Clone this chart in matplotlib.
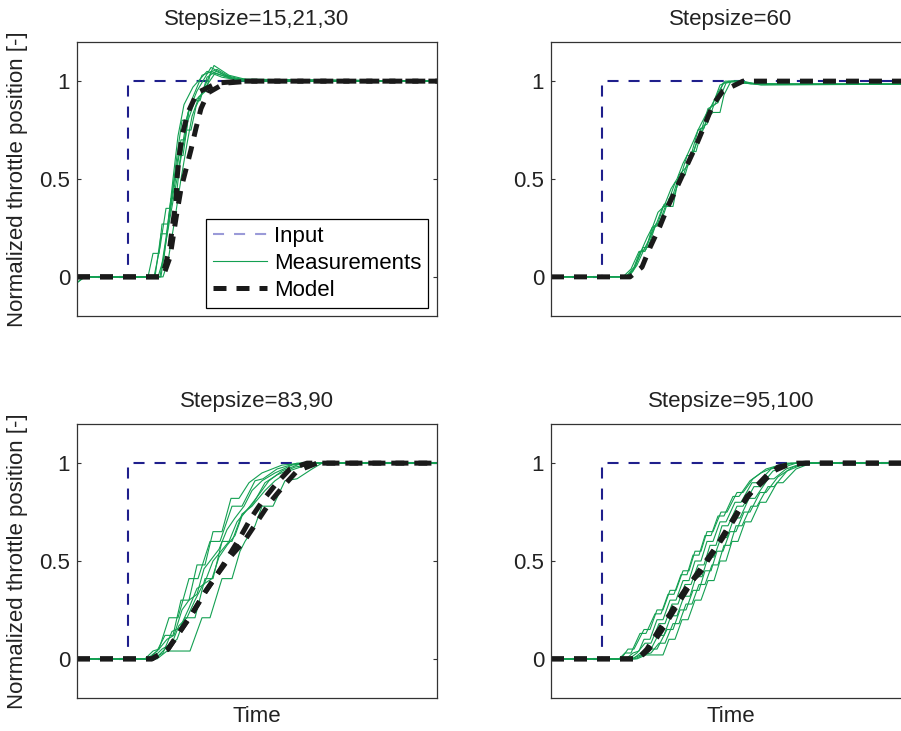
import matplotlib
matplotlib.use('Agg')
import matplotlib.pyplot as plt
from matplotlib.lines import Line2D

plt.rcParams['font.family'] = ['Liberation Sans', 'DejaVu Sans']
plt.rcParams['font.size'] = 16

navy = '#1f1f8c'
green = '#13a052'
black = '#1a1a1a'
frame = '#333333'

# time axis in seconds, step of the input at t=0.51
input_t = [0, 0.51, 0.51, 3.6]
input_y = [0, 0, 1, 1]

titles = ['Stepsize=15,21,30', 'Stepsize=60', 'Stepsize=83,90', 'Stepsize=95,100']

# ---- Stepsize=15,21,30 ----
tl_model = [
    [(0, 0), (0.83, 0), (0.88, 0.05), (0.93, 0.16), (0.96, 0.28), (0.99, 0.38), (1.00, 0.5),
     (1.02, 0.61), (1.05, 0.72), (1.11, 0.84), (1.20, 0.94), (1.40, 0.99), (1.63, 1.0), (3.6, 1.0)],
    [(0, 0), (0.86, 0), (0.93, 0.1), (0.99, 0.3), (1.04, 0.45), (1.09, 0.55), (1.14, 0.65),
     (1.19, 0.76), (1.24, 0.86), (1.31, 0.94), (1.48, 0.99), (1.73, 1.0), (3.6, 1.0)],
]
tl_meas = [
    [(0, -0.03), (0.07, 0), (0.71, 0), (0.76, 0.12), (0.82, 0.12), (0.85, 0.27), (0.91, 0.27), (0.96, 0.5),
     (1.01, 0.72), (1.07, 0.88), (1.16, 0.97), (1.30, 1.05), (1.45, 1.02), (1.68, 1.0), (3.6, 1.0)],
    [(0, -0.03), (0.08, 0), (0.77, 0), (0.83, 0.15), (0.89, 0.35), (0.93, 0.35), (0.99, 0.55), (1.04, 0.7),
     (1.08, 0.7), (1.12, 0.85), (1.20, 0.95), (1.34, 1.07), (1.48, 1.03), (1.72, 1.0), (3.6, 1.0)],
    [(0, 0), (0.81, 0), (0.87, 0.1), (0.92, 0.3), (0.98, 0.48), (1.02, 0.62), (1.06, 0.62), (1.11, 0.8),
     (1.18, 0.9), (1.24, 0.93), (1.37, 1.08), (1.52, 1.03), (1.76, 1.0), (3.6, 1.0)],
    [(0, 0), (0.83, 0), (0.89, 0.2), (0.94, 0.4), (0.99, 0.4), (1.03, 0.58), (1.09, 0.75), (1.14, 0.75),
     (1.19, 0.87), (1.26, 0.95), (1.38, 1.04), (1.58, 1.01), (3.6, 1.0)],
    [(0, 0), (0.86, 0), (0.91, 0.08), (0.98, 0.3), (1.04, 0.5), (1.10, 0.68), (1.15, 0.82), (1.22, 0.92),
     (1.29, 0.95), (1.34, 1.05), (1.50, 1.02), (1.72, 1.0), (3.6, 1.0)],
    [(0, 0), (0.78, 0), (0.84, 0.22), (0.90, 0.22), (0.95, 0.42), (1.00, 0.62), (1.05, 0.8), (1.09, 0.8),
     (1.16, 0.92), (1.25, 1.03), (1.40, 1.06), (1.57, 1.01), (3.6, 1.0)],
    [(0, 0), (0.84, 0), (0.88, 0.15), (0.94, 0.33), (1.00, 0.5), (1.05, 0.66), (1.11, 0.84), (1.16, 0.9),
     (1.23, 0.9), (1.30, 1.02), (1.39, 1.05), (1.62, 1.0), (3.6, 1.0)],
]

# ---- Stepsize=60 ----
tr_model = [
    [(0, 0), (0.79, 0), (0.91, 0.05), (0.99, 0.15), (1.09, 0.26), (1.17, 0.36), (1.27, 0.47), (1.36, 0.57),
     (1.45, 0.67), (1.54, 0.78), (1.62, 0.88), (1.72, 0.95), (1.92, 1.0), (3.6, 1.0)],
]
tr_meas = [
    [(0, 0), (0.72, 0), (0.80, 0.04), (0.88, 0.13), (0.94, 0.13), (1.03, 0.26), (1.08, 0.27), (1.15, 0.37),
     (1.19, 0.37), (1.27, 0.5), (1.31, 0.5), (1.39, 0.62), (1.42, 0.63), (1.50, 0.76), (1.53, 0.76),
     (1.60, 0.87), (1.64, 0.88), (1.72, 0.99), (1.82, 1.0), (1.95, 0.99), (2.3, 0.985), (3.6, 0.985)],
    [(0, 0), (0.76, 0), (0.84, 0.05), (0.92, 0.15), (0.97, 0.15), (1.05, 0.27), (1.10, 0.28), (1.18, 0.4),
     (1.22, 0.4), (1.30, 0.52), (1.34, 0.52), (1.41, 0.64), (1.45, 0.64), (1.52, 0.77), (1.56, 0.78),
     (1.63, 0.88), (1.67, 0.89), (1.75, 0.99), (1.85, 1.0), (2.0, 0.985), (3.6, 0.985)],
    [(0, 0), (0.78, 0), (0.86, 0.06), (0.93, 0.14), (0.99, 0.2), (1.06, 0.28), (1.12, 0.36), (1.22, 0.36),
     (1.28, 0.52), (1.37, 0.57), (1.42, 0.63), (1.48, 0.72), (1.52, 0.75), (1.57, 0.82), (1.62, 0.84),
     (1.69, 0.84), (1.73, 0.93), (1.80, 1.0), (1.92, 1.0), (2.05, 0.985), (3.6, 0.985)],
    [(0, 0), (0.74, 0), (0.82, 0.03), (0.90, 0.13), (0.96, 0.2), (1.02, 0.26), (1.07, 0.33), (1.13, 0.36),
     (1.20, 0.45), (1.26, 0.5), (1.32, 0.58), (1.36, 0.62), (1.43, 0.7), (1.47, 0.75), (1.55, 0.83),
     (1.60, 0.87), (1.68, 0.95), (1.74, 1.0), (1.88, 1.0), (2.1, 0.98), (3.6, 0.985)],
    [(0, 0), (0.75, 0), (0.83, 0.05), (0.89, 0.13), (0.95, 0.14), (1.01, 0.25), (1.06, 0.26), (1.13, 0.37),
     (1.17, 0.38), (1.24, 0.48), (1.29, 0.5), (1.36, 0.62), (1.40, 0.62), (1.47, 0.75), (1.51, 0.76),
     (1.57, 0.86), (1.61, 0.87), (1.69, 0.98), (1.78, 1.0), (1.90, 0.99), (2.2, 0.985), (3.6, 0.985)],
]

# ---- Stepsize=83,90 ----
bl_model = [
    [(0, 0), (0.75, 0), (0.91, 0.05), (1.03, 0.14), (1.15, 0.23), (1.28, 0.34), (1.40, 0.43), (1.51, 0.52),
     (1.63, 0.62), (1.74, 0.72), (1.86, 0.81), (2.00, 0.9), (2.13, 0.97), (2.30, 1.0), (3.6, 1.0)],
    [(0, 0), (0.75, 0), (0.91, 0.05), (1.03, 0.14), (1.15, 0.23), (1.28, 0.34), (1.40, 0.43), (1.53, 0.52),
     (1.67, 0.6), (1.80, 0.7), (1.93, 0.8), (2.06, 0.88), (2.20, 0.96), (2.40, 1.0), (3.6, 1.0)],
]
bl_meas = [
    [(0, 0), (0.68, 0), (0.76, 0.04), (0.82, 0.05), (0.92, 0.21), (1.01, 0.21), (1.12, 0.41), (1.21, 0.41),
     (1.33, 0.6), (1.43, 0.6), (1.55, 0.78), (1.65, 0.78), (1.78, 0.91), (1.86, 0.92), (2.0, 0.97),
     (2.2, 1.0), (3.6, 1.0)],
    [(0, 0), (0.80, 0), (0.90, 0.04), (1.13, 0.04), (1.25, 0.21), (1.33, 0.21), (1.45, 0.41), (1.55, 0.41),
     (1.63, 0.55), (1.68, 0.6), (1.78, 0.68), (1.85, 0.78), (1.96, 0.78), (2.08, 0.91), (2.20, 0.92),
     (2.35, 0.97), (2.45, 1.0), (3.6, 1.0)],
    [(0, 0), (0.72, 0), (0.82, 0.05), (0.90, 0.1), (0.97, 0.12), (1.05, 0.25), (1.12, 0.3), (1.20, 0.33),
     (1.27, 0.46), (1.33, 0.5), (1.42, 0.56), (1.50, 0.66), (1.58, 0.72), (1.67, 0.78), (1.75, 0.86),
     (1.85, 0.91), (1.98, 0.95), (2.15, 0.99), (2.3, 1.0), (3.6, 1.0)],
    [(0, 0), (0.75, 0), (0.85, 0.05), (0.95, 0.08), (1.02, 0.17), (1.10, 0.21), (1.18, 0.3), (1.26, 0.38),
     (1.35, 0.41), (1.42, 0.52), (1.50, 0.58), (1.58, 0.63), (1.65, 0.73), (1.73, 0.78), (1.82, 0.84),
     (1.92, 0.91), (2.05, 0.96), (2.25, 1.0), (3.6, 1.0)],
    [(0, 0), (0.70, 0), (0.80, 0.04), (0.88, 0.12), (0.96, 0.12), (1.04, 0.3), (1.12, 0.3), (1.20, 0.48),
     (1.28, 0.48), (1.36, 0.65), (1.45, 0.65), (1.54, 0.82), (1.62, 0.82), (1.72, 0.9), (1.85, 0.95),
     (2.05, 0.99), (2.25, 1.0), (3.6, 1.0)],
    [(0, 0), (0.78, 0), (0.88, 0.05), (1.00, 0.1), (1.08, 0.21), (1.18, 0.21), (1.28, 0.41), (1.36, 0.41),
     (1.45, 0.6), (1.55, 0.6), (1.65, 0.74), (1.75, 0.78), (1.88, 0.86), (1.98, 0.91), (2.12, 0.96),
     (2.35, 1.0), (3.6, 1.0)],
    [(0, 0), (0.76, 0), (0.86, 0.03), (0.95, 0.14), (1.03, 0.16), (1.12, 0.26), (1.20, 0.36), (1.27, 0.38),
     (1.36, 0.5), (1.44, 0.55), (1.52, 0.6), (1.60, 0.7), (1.68, 0.75), (1.77, 0.8), (1.88, 0.9),
     (2.0, 0.94), (2.18, 0.98), (2.4, 1.0), (3.6, 1.0)],
]

# ---- Stepsize=95,100 ----
br_model = [
    [(0, 0), (0.87, 0), (0.96, 0.05), (1.07, 0.14), (1.19, 0.23), (1.27, 0.3), (1.39, 0.39), (1.49, 0.44),
     (1.59, 0.52), (1.72, 0.62), (1.84, 0.72), (1.96, 0.83), (2.11, 0.9), (2.27, 0.98), (2.46, 1.0), (3.6, 1.0)],
    [(0, 0), (0.87, 0), (0.98, 0.05), (1.10, 0.14), (1.22, 0.24), (1.33, 0.33), (1.44, 0.42), (1.55, 0.5),
     (1.66, 0.58), (1.78, 0.68), (1.90, 0.78), (2.03, 0.87), (2.18, 0.95), (2.36, 0.99), (2.55, 1.0), (3.6, 1.0)],
]
br_meas = [
    [(0, 0), (0.70, 0), (0.77, 0.05), (0.83, 0.05), (0.93, 0.15), (0.99, 0.15), (1.06, 0.25), (1.12, 0.25),
     (1.19, 0.35), (1.25, 0.35), (1.32, 0.45), (1.38, 0.45), (1.44, 0.55), (1.50, 0.55), (1.56, 0.65),
     (1.62, 0.65), (1.70, 0.75), (1.76, 0.75), (1.86, 0.85), (1.92, 0.85), (2.02, 0.92), (2.15, 0.97),
     (2.35, 1.0), (3.6, 1.0)],
    [(0, 0), (0.75, 0), (0.82, 0.03), (0.88, 0.04), (0.93, 0.1), (0.99, 0.1), (1.06, 0.2), (1.12, 0.2),
     (1.19, 0.3), (1.25, 0.3), (1.32, 0.4), (1.38, 0.4), (1.44, 0.5), (1.50, 0.5), (1.56, 0.6), (1.62, 0.6),
     (1.69, 0.7), (1.75, 0.7), (1.84, 0.8), (1.90, 0.8), (2.01, 0.9), (2.07, 0.9), (2.20, 0.97),
     (2.40, 1.0), (3.6, 1.0)],
    [(0, 0), (0.78, 0), (0.86, 0.03), (0.94, 0.08), (1.00, 0.08), (1.08, 0.18), (1.14, 0.18), (1.21, 0.28),
     (1.27, 0.28), (1.34, 0.38), (1.40, 0.38), (1.47, 0.48), (1.53, 0.48), (1.59, 0.58), (1.65, 0.58),
     (1.71, 0.68), (1.77, 0.68), (1.86, 0.78), (1.92, 0.78), (2.03, 0.88), (2.09, 0.88), (2.22, 0.96),
     (2.45, 1.0), (3.6, 1.0)],
    [(0, 0), (0.82, 0), (0.92, 0.04), (1.00, 0.05), (1.07, 0.12), (1.13, 0.12), (1.20, 0.22), (1.26, 0.22),
     (1.33, 0.32), (1.39, 0.32), (1.45, 0.42), (1.51, 0.42), (1.57, 0.52), (1.63, 0.52), (1.70, 0.62),
     (1.76, 0.62), (1.83, 0.72), (1.89, 0.72), (1.98, 0.82), (2.04, 0.82), (2.17, 0.92), (2.23, 0.92),
     (2.35, 0.97), (2.52, 1.0), (3.6, 1.0)],
    [(0, 0), (0.84, 0), (0.96, 0.03), (1.00, 0.05), (1.06, 0.05), (1.16, 0.15), (1.22, 0.15), (1.29, 0.25),
     (1.35, 0.25), (1.42, 0.35), (1.48, 0.35), (1.54, 0.45), (1.60, 0.45), (1.66, 0.55), (1.72, 0.55),
     (1.79, 0.65), (1.85, 0.65), (1.93, 0.75), (1.99, 0.75), (2.09, 0.85), (2.15, 0.85), (2.27, 0.93),
     (2.42, 0.98), (2.58, 1.0), (3.6, 1.0)],
    [(0, 0), (0.86, 0), (0.95, 0.02), (1.12, 0.02), (1.18, 0.1), (1.24, 0.1), (1.31, 0.2), (1.37, 0.2),
     (1.44, 0.3), (1.50, 0.3), (1.57, 0.4), (1.63, 0.4), (1.69, 0.5), (1.75, 0.5), (1.81, 0.6), (1.87, 0.6),
     (1.94, 0.7), (2.00, 0.7), (2.09, 0.8), (2.15, 0.8), (2.26, 0.9), (2.32, 0.9), (2.45, 0.97),
     (2.60, 1.0), (3.6, 1.0)],
    [(0, 0), (0.68, 0), (0.74, 0.03), (0.80, 0.03), (0.89, 0.13), (0.95, 0.13), (1.04, 0.23), (1.10, 0.23),
     (1.17, 0.33), (1.23, 0.33), (1.30, 0.43), (1.36, 0.43), (1.42, 0.53), (1.48, 0.53), (1.54, 0.63),
     (1.60, 0.63), (1.67, 0.73), (1.73, 0.73), (1.82, 0.83), (1.88, 0.83), (1.99, 0.91), (2.10, 0.95),
     (2.28, 0.99), (2.45, 1.0), (3.6, 1.0)],
    [(0, 0), (0.80, 0), (0.90, 0.02), (1.00, 0.03), (1.08, 0.08), (1.14, 0.08), (1.22, 0.18), (1.28, 0.18),
     (1.35, 0.28), (1.41, 0.28), (1.48, 0.38), (1.54, 0.38), (1.61, 0.48), (1.67, 0.48), (1.73, 0.58),
     (1.79, 0.58), (1.85, 0.68), (1.91, 0.68), (2.00, 0.78), (2.06, 0.78), (2.17, 0.88), (2.23, 0.88),
     (2.36, 0.96), (2.55, 1.0), (3.6, 1.0)],
]

models = [tl_model, tr_model, bl_model, br_model]
meas = [tl_meas, tr_meas, bl_meas, br_meas]

W, H = 901, 731
# pixel boxes (left, top) of each axes, width 360 x height 274
boxes = [(77, 42), (551, 42), (77, 424), (551, 424)]

fig = plt.figure(figsize=(W / 100, H / 100), dpi=100)

for i in range(4):
    x0, y0 = boxes[i]
    ax = fig.add_axes([x0 / W, 1 - (y0 + 274) / H, 360 / W, 274 / H])
    ax.plot(input_t, input_y, color=navy, lw=1.5, dashes=(5.3, 4.8))
    for c in meas[i]:
        ax.plot([p[0] for p in c], [p[1] for p in c], color=green, lw=0.8)
    for c in models[i]:
        ax.plot([p[0] for p in c], [p[1] for p in c], color=black, lw=3.6,
                dashes=(2.6, 2.0), dash_capstyle='butt')
    ax.set_xlim(0, 3.6)
    ax.set_ylim(-0.2, 1.2)
    ax.set_xticks([])
    ax.set_yticks([0, 0.5, 1])
    ax.set_yticklabels(['0', '0.5', '1'])
    ax.tick_params(axis='y', direction='in', length=3, width=0.8, color=frame,
                   right=True, pad=5, labelcolor='#222222')
    for s in ax.spines.values():
        s.set_color(frame)
        s.set_linewidth(0.9)
    ax.set_title(titles[i], fontsize=16, pad=12, color='#222222')
    if i % 2 == 0:
        ax.set_ylabel('Normalized throttle position [-]', color='#222222')
        ax.yaxis.set_label_coords(-0.135, 0.5)
    if i >= 2:
        ax.set_xlabel('Time', color='#222222', labelpad=6)
    if i == 0:
        handles = [
            Line2D([], [], color='#9a9ad8', lw=1.5, dashes=(5.3, 4.8)),
            Line2D([], [], color=green, lw=0.8),
            Line2D([], [], color=black, lw=3.6, dashes=(2.6, 2.0), dash_capstyle='butt'),
        ]
        leg = ax.legend(handles, ['Input', 'Measurements', 'Model'], loc='upper right',
                        bbox_to_anchor=(0.975, 0.354), borderaxespad=0, fancybox=False,
                        framealpha=1, edgecolor='black', handlelength=2.45, handletextpad=0.3,
                        labelspacing=0.28, borderpad=0.3, fontsize=16)
        leg.get_frame().set_linewidth(0.9)

fig.savefig('out.png', dpi=100)
